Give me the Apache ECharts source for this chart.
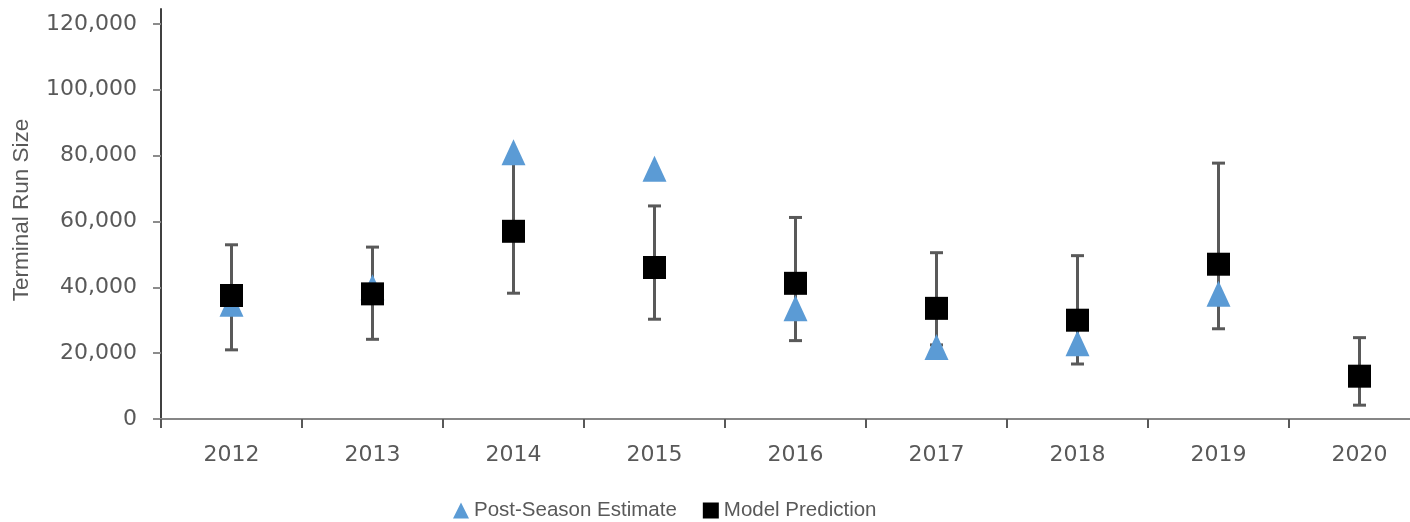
<!DOCTYPE html>
<html>
<head>
<meta charset="utf-8">
<script src="https://cdn.jsdelivr.net/npm/echarts@6/dist/echarts.min.js"></script>
<style>html,body{margin:0;padding:0;background:#fff}#c{width:1410px;height:522px}</style>
</head>
<body>
<div id="c"></div>
<script>
var years = ['2012','2013','2014','2015','2016','2017','2018','2019','2020'];
var postSeason = [35000, 40000, 81000, 76000, 33600, 21900, 23000, 38000, null];
var model = [37500, 38000, 57000, 46000, 41200, 33600, 30000, 47000, 13000];
var lower = [21000, 24200, 38200, 30300, 23800, 22500, 16700, 27400, 4200];
var upper = [52900, 52200, 80000, 64700, 61200, 50500, 49600, 77700, 24700];
var yTicks = [0, 20000, 40000, 60000, 80000, 100000, 120000];

var errData = years.map(function (y, i) { return [i, lower[i], upper[i]]; });
var font = 'Liberation Sans, Arial, sans-serif';
var tickFont = 'DejaVu Sans, sans-serif';
var chart = echarts.init(document.getElementById('c'));
chart.setOption({
  animation: false,
  grid: { left: 161, top: 9, bottom: 103, right: -20, outerBoundsMode: 'none', containLabel: false },
  legend: {
    left: 448, top: 495, itemWidth: 16, itemHeight: 16, itemGap: 26,
    textStyle: { fontFamily: font, fontSize: 20.5, color: '#595959' },
    data: [{ name: 'Post-Season Estimate', icon: 'triangle' }, { name: 'Model Prediction', icon: 'rect' }]
  },
  xAxis: {
    type: 'category', data: years, boundaryGap: true,
    axisLine: { lineStyle: { color: '#868686', width: 2 } },
    axisTick: { show: true, length: 9, lineStyle: { color: '#595959', width: 2 } },
    axisLabel: { margin: 25, fontFamily: tickFont, fontSize: 22, color: '#595959' }
  },
  yAxis: {
    type: 'value', min: 0, max: 124500,
    name: 'Terminal Run Size', nameLocation: 'middle', nameGap: 128,
    nameTextStyle: { fontFamily: font, fontSize: 22.5, color: '#595959', padding: [0, 0, 0, 8] },
    axisLine: { show: true, lineStyle: { color: '#404040', width: 2 } },
    axisTick: { show: true, length: 8, customValues: yTicks, lineStyle: { color: '#8c8c8c', width: 2 } },
    axisLabel: { margin: 24, customValues: yTicks, fontFamily: tickFont, fontSize: 22, color: '#595959',
      formatter: function (v) { return v.toLocaleString('en-US'); } },
    splitLine: { show: false }
  },
  series: [
    {
      type: 'custom', name: 'err', z: 1, silent: true,
      data: errData,
      encode: { x: 0, y: [1, 2] },
      renderItem: function (params, api) {
        var x = api.value(0);
        var lo = api.coord([x, api.value(1)]);
        var hi = api.coord([x, api.value(2)]);
        var hw = 6.5;
        var st = { stroke: '#595959', lineWidth: 3 };
        return { type: 'group', children: [
          { type: 'line', shape: { x1: lo[0], y1: lo[1], x2: hi[0], y2: hi[1] }, style: st },
          { type: 'line', shape: { x1: lo[0] - hw, y1: lo[1], x2: lo[0] + hw, y2: lo[1] }, style: st },
          { type: 'line', shape: { x1: hi[0] - hw, y1: hi[1], x2: hi[0] + hw, y2: hi[1] }, style: st }
        ] };
      }
    },
    {
      type: 'scatter', name: 'Post-Season Estimate', z: 2,
      symbol: 'triangle', symbolSize: [24, 26],
      itemStyle: { color: '#5B9BD5', opacity: 1 },
      data: postSeason
    },
    {
      type: 'scatter', name: 'Model Prediction', z: 3,
      symbol: 'rect', symbolSize: 23,
      itemStyle: { color: '#000000', opacity: 1 },
      data: model
    }
  ]
});
</script>
</body>
</html>
